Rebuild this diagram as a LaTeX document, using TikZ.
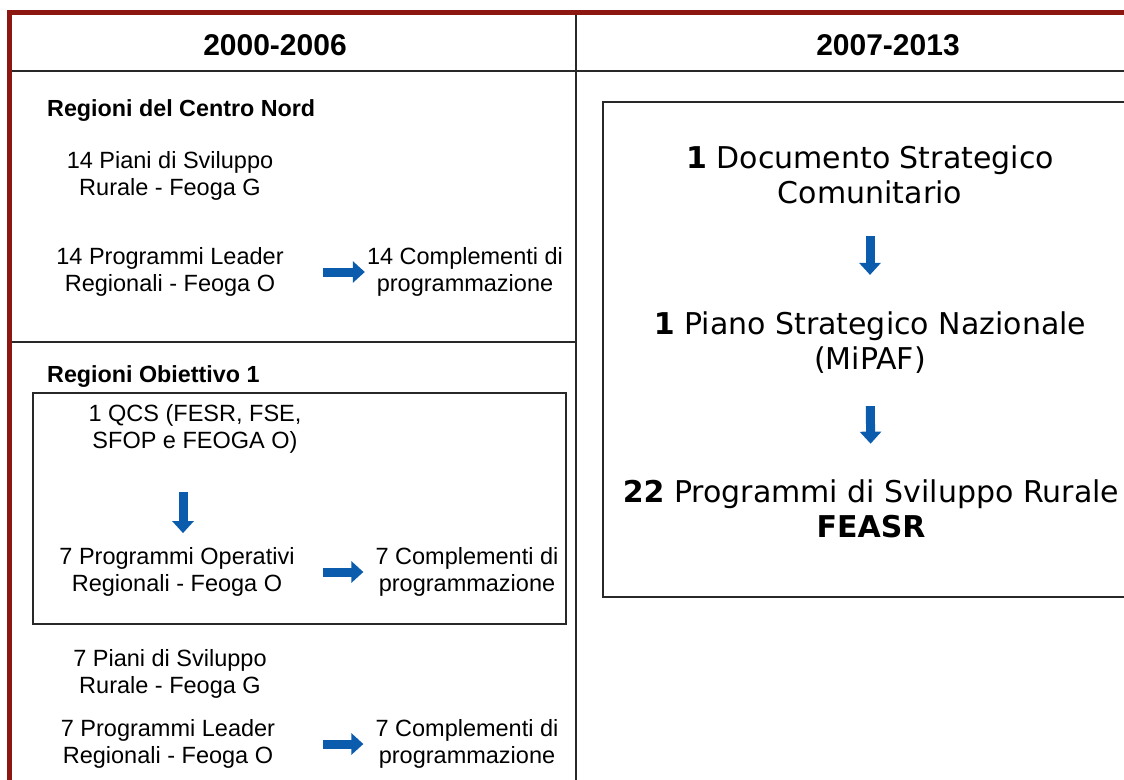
\documentclass[tikz,border=0pt]{standalone}
\usepackage{fontspec}
\setmainfont{Liberation Sans}
\newfontfamily\verdfont{DejaVu Sans}
\usetikzlibrary{arrows.meta}
\definecolor{bordeaux}{RGB}{140,22,16}
\definecolor{blufreccia}{RGB}{11,92,173}
\definecolor{linea}{RGB}{40,40,40}

\begin{document}
\begin{tikzpicture}[x=1pt,y=-1pt,
  every text node part/.style={align=center},
  testo/.style={inner sep=0pt, font=\fontsize{23.5}{27.5}\selectfont},
  titolo/.style={inner sep=0pt, font=\fontsize{30}{36}\selectfont\bfseries},
  regione/.style={inner sep=0pt, anchor=base west, font=\fontsize{23.3}{28}\selectfont\bfseries},
  grande/.style={inner sep=0pt, font=\fontsize{30}{35}\selectfont\verdfont},
  freccia/.style={draw=blufreccia, line width=9pt, -{Triangle[width=21pt,length=12pt]}},
  riquadro/.style={draw=linea, line width=2.5pt}]
\useasboundingbox (0,0) rectangle (1124,779);
\begin{scope}
  \clip (0,0) rectangle (1124,779);
  \draw[riquadro] (10,71) -- (1130,71);
  \draw[riquadro] (576,12) -- (576,790);
  \draw[riquadro] (10,342) -- (576,342);
  \draw[riquadro] (33,393) rectangle (566,624);
  \draw[riquadro] (603,102) rectangle (1140,597);
  \draw[bordeaux, line width=5pt] (9.5,790) -- (9.5,12.5) -- (1130,12.5);
\end{scope}

\node[titolo] (anni1) at (275,45) {2000-2006};
\node[titolo] (anni2) at (888,45) {2007-2013};

\node[regione] (centronord) at (47,116) {Regioni del Centro Nord};
\node[testo] (psr14) at (170,176) {14 Piani di Sviluppo\\Rurale - Feoga G};
\node[testo] (leader14) at (170,272) {14 Programmi Leader\\Regionali - Feoga O};
\node[testo] (compl14) at (465,272) {14 Complementi di\\programmazione};

\node[regione] (obiettivo) at (47,382) {Regioni Obiettivo 1};
\node[testo] (qcs) at (195,429) {1 QCS (FESR, FSE,\\SFOP e FEOGA O)};
\node[testo] (por) at (177,572) {7 Programmi Operativi\\Regionali - Feoga O};
\node[testo] (compl7a) at (467,572) {7 Complementi di\\programmazione};
\node[testo] (psr7) at (170,674) {7 Piani di Sviluppo\\Rurale - Feoga G};
\node[testo] (leader7) at (168,744) {7 Programmi Leader\\Regionali - Feoga O};
\node[testo] (compl7b) at (467,744) {7 Complementi di\\programmazione};

\node[grande] (dsc) at (870,175) {\textbf{1} Documento Strategico\\Comunitario};
\node[grande] (psn) at (870,343) {\textbf{1} Piano Strategico Nazionale\\(MiPAF)};
\node[grande] (psr22) at (871,509) {\textbf{22} Programmi di Sviluppo Rurale\\\textbf{FEASR}};

\draw[freccia, shorten <=39.5pt, shorten >=2pt] (leader14) -- (compl14);
\draw[freccia, shorten <=38pt, shorten >=14pt] ([xshift=-12pt]qcs.south) -- ([xshift=6pt]por.north);
\draw[freccia, shorten <=28.5pt, shorten >=12pt] (por) -- (compl7a);
\draw[freccia, shorten <=48pt, shorten >=12pt] (leader7) -- (compl7b);
\draw[freccia, shorten <=32pt, shorten >=37pt] (dsc) -- (psn);
\draw[freccia, shorten <=32pt, shorten >=36pt] (psn) -- (psr22);
\end{tikzpicture}
\end{document}
